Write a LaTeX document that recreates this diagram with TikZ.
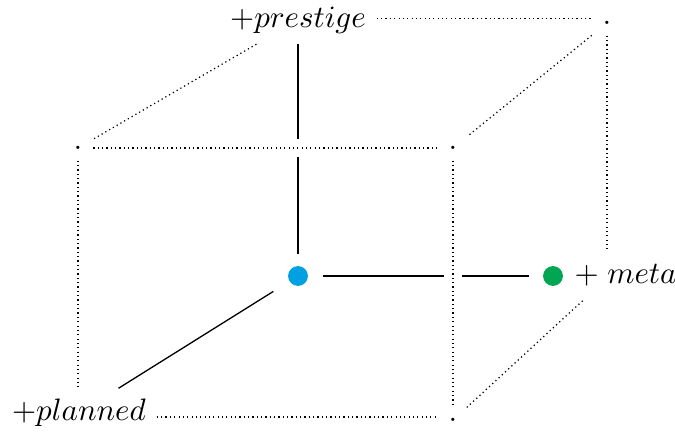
\documentclass[tikz,border=0pt]{standalone}
\usetikzlibrary{fit}
\definecolor{dotblue}{RGB}{0,160,227}
\definecolor{dotgreen}{RGB}{0,166,81}
\begin{document}
\begin{tikzpicture}[x=0.3226pt,y=-0.3226pt,
  edot/.style={densely dotted, line width=0.4pt},
  axisline/.style={line width=0.42pt},
  halo/.style={white, line width=5.5pt},
]
\useasboundingbox (0,0) rectangle (675,432);
\node (P) at (298,20) {$+prestige$};
\node (BTR) at (607,23) {.};
\node (FTL) at (78,148) {.};
\node (FTR) at (453,148) {.};
\node[minimum width=15.5pt, minimum height=13.5pt, inner sep=0pt] (O) at (298,276) {};
\fill[dotblue] (O.center) circle (3.2pt);
\node[circle, fill=dotgreen, minimum size=6.4pt, inner sep=0pt] (G) at (553,276) {};
\node[anchor=base west, inner sep=0pt] (Mt) at (574,284) {$+\;meta$};
\node[fit=(G)(Mt), inner sep=4pt] (M) {};
\node (Pl) at (79,413) {$+planned$};
\node (FBR) at (453,420) {.};
% solid axes
\draw[axisline] (O) -- (P);
\draw[axisline] (O.east) -- (O.east -| M.west);
\draw[axisline] (O) -- (Pl);
% crossing gaps
\draw[halo] (FTL) -- (FTR);
\draw[halo] (FTR) -- (FBR);
% dotted cube edges
\draw[edot] ([yshift=0.6pt]P.east) -- ([yshift=0.6pt]P.east -| BTR.west);
\draw[edot] (P) -- (FTL);
\draw[edot] (BTR) -- (FTR);
\draw[edot] (BTR) -- (BTR |- M.north);
\draw[edot] (FTL) -- (FTR);
\draw[edot] (FTL) -- (FTL |- Pl.north);
\draw[edot] (FTR) -- (FBR);
\draw[edot] ([yshift=-1.3pt]Pl.east) -- ([yshift=-1.3pt]Pl.east -| FBR.west);
\draw[edot] (FBR) -- (M);
\end{tikzpicture}
\end{document}
